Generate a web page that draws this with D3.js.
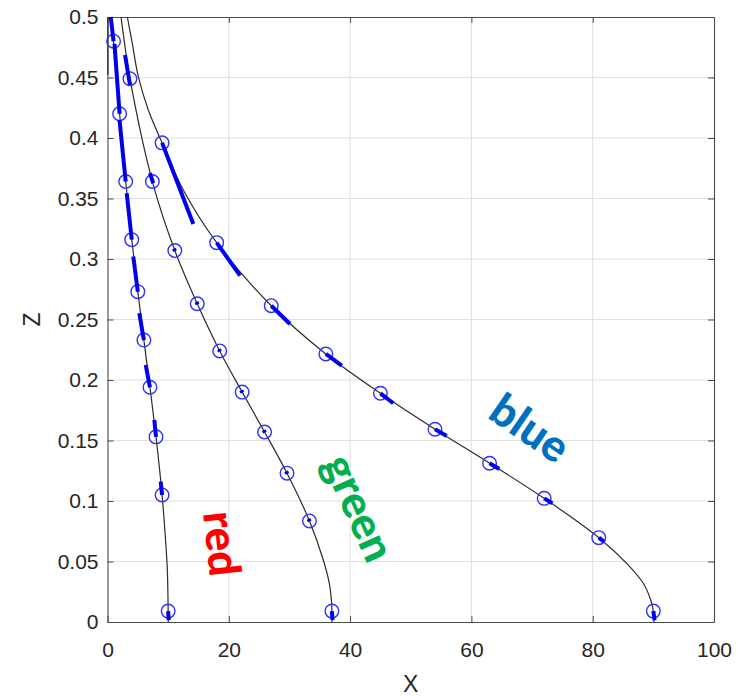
<!DOCTYPE html>
<html>
<head>
<meta charset="utf-8">
<script src="https://cdn.jsdelivr.net/npm/d3@7/dist/d3.min.js"></script>
<style>
  html, body { margin: 0; padding: 0; background: #ffffff; }
  svg { display: block; }
</style>
</head>
<body>
<svg id="chart" width="745" height="696"></svg>
<script>
// ---- axis ticks ----
const xTicks = [0, 20, 40, 60, 80, 100];
const zTicks = [0, 0.05, 0.1, 0.15, 0.2, 0.25, 0.3, 0.35, 0.4, 0.45, 0.5];
const zTickLabels = ["0", "0.05", "0.1", "0.15", "0.2", "0.25", "0.3", "0.35", "0.4", "0.45", "0.5"];

// ---- sampled positions (circle markers) ----
const redX   = [1, 2, 3, 4, 5, 6, 7, 8, 9, 10];
const redZ   = [0.48, 0.42, 0.364, 0.316, 0.273, 0.233, 0.194, 0.153, 0.105, 0.009];
const greenX = [3.7, 7.4, 11.1, 14.8, 18.5, 22.2, 25.9, 29.6, 33.3, 37];
const greenZ = [0.449, 0.364, 0.307, 0.263, 0.224, 0.190, 0.157, 0.123, 0.0835, 0.009];
const blueX  = [9, 18, 27, 36, 45, 54, 63, 72, 81, 90];
const blueZ  = [0.396, 0.3135, 0.2614, 0.2215, 0.189, 0.1593, 0.1312, 0.1022, 0.0697, 0.009];

// ---- continuous trajectories (thin black lines) ----
const redLineX   = [0.6, 1, 2, 3, 4, 5, 6, 7, 8, 9, 9.5, 9.85, 9.97, 10, 10.02];
const redLineZ   = [0.5, 0.48, 0.42, 0.364, 0.316, 0.273, 0.233, 0.194, 0.153, 0.105, 0.073, 0.045, 0.021, 0.009, 0];
const greenLineX = [2.23, 2.89, 3.7, 7.4, 11.1, 14.8, 18.5, 22.2, 25.9, 29.6, 33.3, 35.58, 36.57, 36.92, 37, 37.03];
const greenLineZ = [0.5, 0.4755, 0.449, 0.364, 0.307, 0.263, 0.224, 0.190, 0.157, 0.123, 0.0835, 0.0512, 0.032, 0.018, 0.009, 0];
const blueLineX  = [3.27, 4.09, 5.08, 6.73, 9, 12.5, 18, 27, 36, 45, 54, 63, 72, 81, 85.6, 88.34, 89.56, 90, 90.1];
const blueLineZ  = [0.5, 0.478, 0.4507, 0.4232, 0.396, 0.357, 0.3135, 0.2614, 0.2215, 0.189, 0.1593, 0.1312, 0.1022, 0.0697, 0.0485, 0.032, 0.0182, 0.009, 0];
const wallLineX  = [0.05, 0.05];
const wallLineZ  = [0.5, 0.452];

// ---- velocity segments (thick blue strokes): start -> end ----
const redSegX0 = [0.53, 1.15, 1.98, 3.17, 4.25, 5.24, 6.30, 7.72, 8.77, 10];
const redSegZ0 = [0.5, 0.4778, 0.4149, 0.3544, 0.302, 0.2552, 0.2124, 0.167, 0.116, 0.009];
const redSegX1 = [1, 2, 3, 4, 5, 6, 7, 8, 9, 10.1];
const redSegZ1 = [0.48, 0.42, 0.364, 0.316, 0.273, 0.233, 0.194, 0.153, 0.105, 0.0015];

const greenSegX0 = [2.89, 6.99, 10.95, 14.65, 18.35, 22.05, 25.75, 29.45, 33.15, 37];
const greenSegZ0 = [0.4686, 0.3709, 0.3085, 0.2645, 0.2255, 0.1915, 0.1585, 0.1245, 0.0852, 0.009];
const greenSegX1 = [3.71, 7.55, 11.15, 14.85, 18.55, 22.25, 25.95, 29.65, 33.35, 37.1];
const greenSegZ1 = [0.4438, 0.3626, 0.3065, 0.2625, 0.2235, 0.1895, 0.1565, 0.1225, 0.0832, 0.0015];

const blueSegX0 = [9, 18, 27, 36, 45, 54, 63, 72, 81, 90];
const blueSegZ0 = [0.396, 0.3135, 0.2614, 0.2215, 0.189, 0.1593, 0.1312, 0.1022, 0.0697, 0.009];
const blueSegX1 = [14.15, 21.85, 30.09, 38.62, 47.12, 55.93, 64.6, 73.34, 81.86, 90.2];
const blueSegZ1 = [0.329, 0.2862, 0.2463, 0.2119, 0.1808, 0.1537, 0.1265, 0.0981, 0.0664, 0.0015];

// ---- layout ----
const svg = d3.select("#chart");
const plotLeft = 107.5, plotRight = 714, plotTop = 17, plotBottom = 622;

const x = d3.scaleLinear().domain([0, 100]).range([plotLeft, plotRight]);
const z = d3.scaleLinear().domain([0, 0.5]).range([plotBottom, plotTop]);

const axisColor = "#4a4a4a";
const textColor = "#262626";
const tickFont = "'Liberation Sans', Arial, Helvetica, sans-serif";

// grid
const grid = svg.append("g");
grid.selectAll("line.gx").data(xTicks.slice(1, -1)).enter().append("line")
  .attr("x1", d => x(d)).attr("x2", d => x(d))
  .attr("y1", plotTop).attr("y2", plotBottom)
  .attr("stroke", "#e0e0e0").attr("stroke-width", 1);
grid.selectAll("line.gz").data(zTicks.slice(1, -1)).enter().append("line")
  .attr("y1", d => z(d)).attr("y2", d => z(d))
  .attr("x1", plotLeft).attr("x2", plotRight)
  .attr("stroke", "#e0e0e0").attr("stroke-width", 1);

// axes with inward ticks on all four sides
const tickLen = 6;
const axB = d3.axisBottom(x).tickValues(xTicks).tickSizeInner(-tickLen).tickSizeOuter(0).tickPadding(20).tickFormat(d3.format("d"));
const axT = d3.axisTop(x).tickValues(xTicks).tickSizeInner(-tickLen).tickSizeOuter(0).tickFormat("");
const axL = d3.axisLeft(z).tickValues(zTicks).tickSizeInner(-tickLen).tickSizeOuter(0).tickPadding(9)
  .tickFormat((d, i) => zTickLabels[i]);
const axR = d3.axisRight(z).tickValues(zTicks).tickSizeInner(-tickLen).tickSizeOuter(0).tickFormat("");

function styleAxis(g) {
  g.select(".domain").attr("stroke", axisColor).attr("stroke-width", 1.1);
  g.selectAll(".tick line").attr("stroke", axisColor).attr("stroke-width", 1);
  g.selectAll(".tick text").attr("fill", textColor).style("font-family", tickFont).style("font-size", "21px");
}
svg.append("g").attr("transform", `translate(0,${plotBottom})`).call(axB).call(styleAxis);
svg.append("g").attr("transform", `translate(0,${plotTop})`).call(axT).call(styleAxis);
svg.append("g").attr("transform", `translate(${plotLeft},0)`).call(axL).call(styleAxis);
svg.append("g").attr("transform", `translate(${plotRight},0)`).call(axR).call(styleAxis);

// axis titles
svg.append("text").attr("x", (plotLeft + plotRight) / 2).attr("y", 692)
  .attr("text-anchor", "middle").attr("fill", textColor)
  .style("font-family", tickFont).style("font-size", "23px").text("X");
svg.append("text").attr("transform", `translate(40,${(plotTop + plotBottom) / 2}) rotate(-90)`)
  .attr("text-anchor", "middle").attr("fill", textColor)
  .style("font-family", tickFont).style("font-size", "23px").text("Z");

// trajectories
const zip = (xs, zs) => xs.map((v, i) => [v, zs[i]]);
const line = d3.line().x(d => x(d[0])).y(d => z(d[1])).curve(d3.curveCatmullRom.alpha(0.5));
const traj = svg.append("g").attr("fill", "none").attr("stroke", "#2b2b2b").attr("stroke-width", 1.2);
[[redLineX, redLineZ], [greenLineX, greenLineZ], [blueLineX, blueLineZ], [wallLineX, wallLineZ]]
  .forEach(([xs, zs]) => traj.append("path").attr("d", line(zip(xs, zs))));

// circle markers
const markers = svg.append("g").attr("fill", "none").attr("stroke", "#3030ff").attr("stroke-width", 1.4);
[[redX, redZ], [greenX, greenZ], [blueX, blueZ]].forEach(([xs, zs]) => {
  markers.selectAll(null).data(zip(xs, zs)).enter().append("circle")
    .attr("cx", d => x(d[0])).attr("cy", d => z(d[1])).attr("r", 6.8);
});

// velocity segments
const segs = svg.append("g").attr("stroke", "#0000ee").attr("stroke-width", 4).attr("stroke-linecap", "butt");
[[redSegX0, redSegZ0, redSegX1, redSegZ1], [greenSegX0, greenSegZ0, greenSegX1, greenSegZ1], [blueSegX0, blueSegZ0, blueSegX1, blueSegZ1]]
  .forEach(([x0, z0, x1, z1]) => {
    segs.selectAll(null).data(x0.map((v, i) => i)).enter().append("line")
      .attr("x1", i => x(x0[i])).attr("y1", i => z(z0[i]))
      .attr("x2", i => x(x1[i])).attr("y2", i => z(z1[i]));
  });

// series captions
const captionFont = "Lato, 'Open Sans', 'Noto Sans', sans-serif";
function caption(text, color, cx, cz, angle) {
  svg.append("text")
    .attr("transform", `translate(${x(cx)},${z(cz)}) rotate(${angle})`)
    .attr("text-anchor", "middle").attr("dominant-baseline", "central")
    .attr("fill", color).style("font-family", captionFont)
    .style("font-weight", "900").style("font-size", "44px").text(text);
}
caption("red", "#ff0000", 19.1, 0.0649, 84);
caption("green", "#00b050", 41.7, 0.0948, 66);
caption("blue", "#0070c0", 69.8, 0.1612, 34.5);
</script>
</body>
</html>
